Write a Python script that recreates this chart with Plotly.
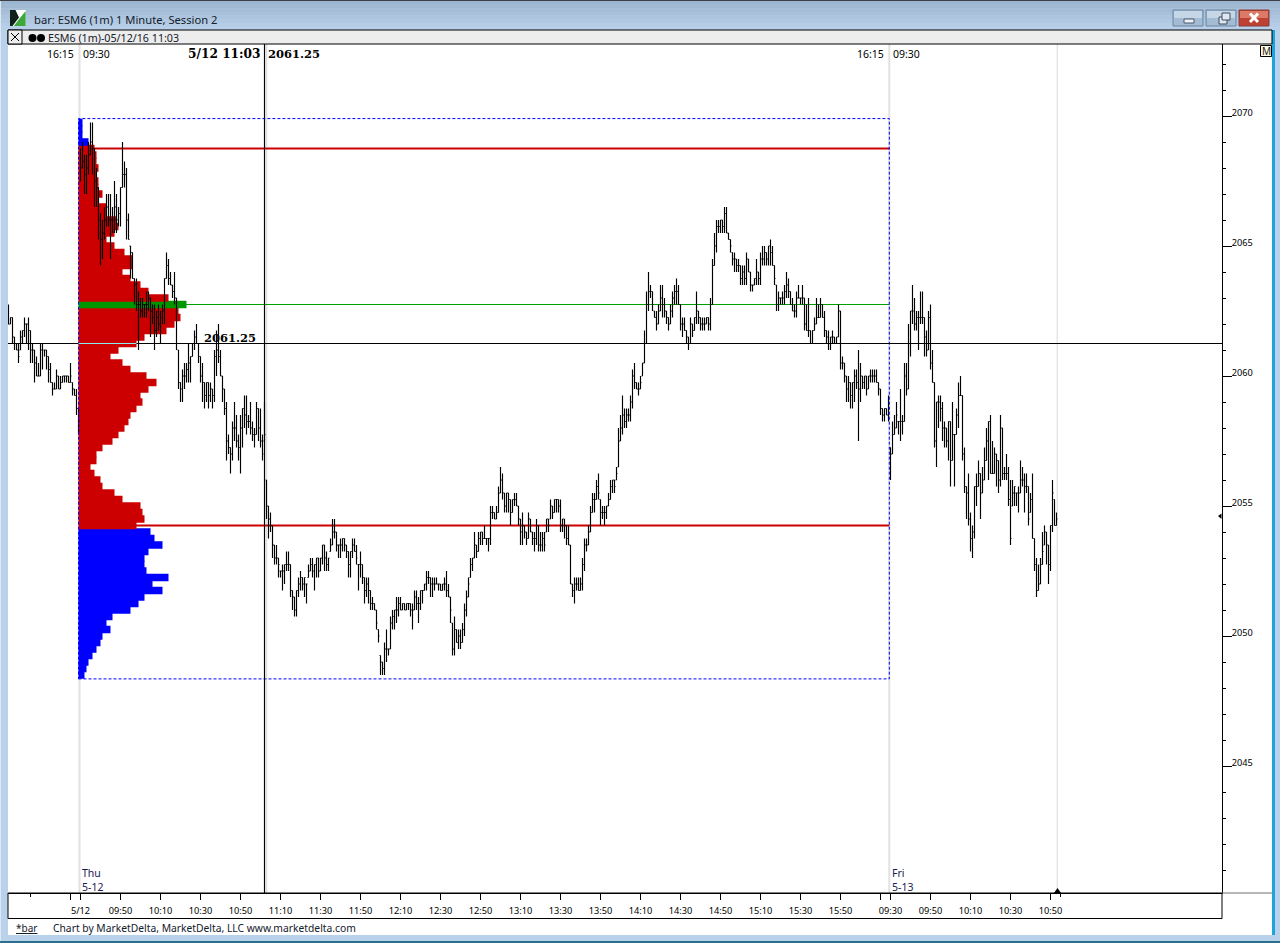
import plotly.graph_objects as go

# ---------------- chart data ----------------
PRICE_BASE = 2000  # bar prices below are quoted in points above this

# one-minute bars, 09:30 Thu = bar 0; first_bar is the earliest bar on screen
first_bar = -36

bar_high = [
 62.75,62.25,62.25,61.5,61.25,61.25,61.75,61.75,62.25,62.0,
 62.25,61.75,61.25,61.0,60.75,60.5,61.25,61.25,61.0,61.0,
 60.75,60.5,59.75,59.75,60.25,60.0,60.0,60.0,60.0,60.0,
 60.0,60.5,59.75,59.5,59.5,58.75,
 68.75,69.0,68.5,68.5,69.0,69.75,69.75,68.75,68.0,67.25,
 66.25,66.0,66.5,67.0,67.0,67.0,66.5,67.5,67.0,66.5,
 67.25,69.0,68.25,68.0,66.25,65.0,64.75,63.75,63.75,63.25,
 63.0,63.0,62.75,63.25,63.25,63.0,62.75,62.75,62.5,62.75,
 62.5,62.75,63.75,64.75,64.5,64.0,63.5,64.0,63.0,61.0,
 59.75,60.25,60.5,60.5,61.25,60.75,61.25,61.75,62.0,61.25,
 60.75,60.5,59.75,59.75,59.75,59.75,59.5,61.0,61.75,62.0,
 61.0,60.0,59.5,59.0,57.75,57.25,58.25,59.0,58.5,57.75,
 58.5,58.75,59.25,59.25,58.5,59.0,58.25,58.0,59.0,58.75,
 58.75,57.75,59.0,56.0,55.0,54.75,54.25,53.5,53.5,53.0,
 52.5,52.75,52.75,53.25,53.25,52.75,51.75,51.5,51.75,52.25,
 52.5,52.25,52.25,52.0,52.75,53.0,53.0,52.75,53.0,53.0,
 53.0,53.5,53.5,53.25,53.0,53.75,54.5,54.5,54.0,53.5,
 53.75,53.75,53.75,53.5,53.25,53.25,53.75,53.75,53.5,52.75,
 53.25,52.75,52.25,52.25,52.25,51.75,51.5,51.25,51.0,50.25,
 49.25,49.0,49.75,50.25,49.5,50.75,51.0,51.0,51.5,51.5,
 51.5,51.25,51.25,51.25,51.25,51.25,51.25,51.75,51.75,51.5,
 51.75,51.75,52.0,52.5,52.5,52.25,52.25,52.25,52.25,52.0,
 52.0,52.0,52.25,52.5,52.0,51.5,50.5,50.75,50.25,50.25,
 50.25,50.5,51.25,51.75,52.25,53.0,53.0,54.0,53.5,54.0,
 54.0,54.0,54.25,53.75,53.75,55.0,55.0,54.75,55.0,55.75,
 56.5,56.25,55.5,55.5,55.5,55.25,55.25,55.5,55.5,55.0,
 54.5,54.75,54.25,54.0,54.75,54.5,54.0,54.0,54.5,54.25,
 54.0,54.0,54.0,54.5,54.5,55.25,55.0,55.25,55.25,55.25,
 55.25,54.5,54.5,54.25,54.25,53.5,52.0,52.25,52.25,52.25,
 52.25,53.0,53.75,53.75,54.25,55.0,55.5,55.5,56.0,56.25,
 55.25,55.0,55.0,55.0,55.5,56.0,56.0,56.0,56.5,58.0,
 58.5,59.25,58.75,58.75,58.75,59.25,60.25,60.5,59.75,59.75,
 60.0,60.5,61.75,63.25,64.0,63.5,63.25,62.5,62.5,62.75,
 63.5,63.5,63.0,62.5,62.25,62.75,63.25,63.5,63.75,63.5,
 62.75,62.25,62.25,61.75,61.5,62.25,62.0,62.25,63.25,62.5,
 62.25,62.25,62.25,62.25,62.25,63.0,64.5,65.5,66.0,66.0,
 66.0,66.0,66.5,66.5,65.5,65.25,64.75,64.75,64.5,64.5,
 64.25,64.25,64.25,64.75,64.5,64.0,63.5,63.75,64.5,64.0,
 64.75,65.0,65.0,64.75,65.0,65.25,65.0,64.25,63.5,63.25,
 63.0,63.25,63.5,64.0,63.75,63.25,63.0,62.75,63.25,63.5,
 63.0,63.5,63.0,62.75,63.0,61.75,61.75,62.25,63.0,62.75,
 63.0,62.75,62.5,61.75,61.75,61.5,61.75,61.5,61.5,62.75,
 62.5,60.75,60.5,60.0,60.0,59.75,59.75,60.25,60.25,61.0,
 60.5,60.0,60.0,60.0,60.0,60.25,60.25,60.25,60.25,59.75,
 59.5,58.75,58.75,58.75,59.25,57.25,58.25,58.5,59.0,58.25,
 59.5,58.5,60.5,60.5,62.0,62.5,63.5,63.0,62.5,62.5,
 63.25,63.25,62.25,61.75,62.5,62.75,61.0,59.75,59.0,59.25,
 59.25,59.0,58.25,58.0,58.25,58.25,59.0,57.75,58.75,59.75,
 60.0,59.25,57.25,55.75,56.25,54.75,54.25,55.75,56.25,56.75,
 56.25,56.5,57.25,58.0,58.25,58.5,57.5,57.25,57.0,56.75,
 58.5,58.0,56.5,57.0,56.5,56.0,56.0,55.75,55.5,55.75,
 56.75,56.5,56.25,56.25,55.75,55.5,56.25,53.75,53.0,52.75,
 53.0,54.0,54.25,54.0,53.5,54.25,56.0,55.25,54.75,
]

bar_low = [
 62.0,62.0,61.25,61.0,61.0,60.5,61.0,61.25,61.5,61.25,
 61.0,60.5,60.5,59.75,60.0,60.0,60.0,60.25,60.75,60.25,
 59.75,59.75,59.25,59.5,59.5,59.5,59.5,59.75,59.75,59.75,
 59.75,59.75,59.25,59.25,58.5,57.75,
 67.5,68.0,67.0,67.0,67.75,68.5,67.75,66.5,66.5,65.25,
 64.25,64.5,65.25,65.75,65.75,64.5,65.5,65.5,65.5,65.75,
 65.75,67.25,67.25,65.25,65.25,63.75,63.75,62.75,62.5,61.0,
 62.25,62.25,62.25,62.25,62.5,61.5,62.0,61.0,61.5,61.75,
 61.25,62.0,62.0,63.75,63.5,63.5,63.0,62.75,61.0,59.5,
 59.0,59.0,59.5,59.75,59.75,59.75,60.75,61.0,61.25,60.5,
 59.75,59.0,58.75,59.0,58.75,59.0,58.75,59.0,60.0,60.5,
 60.0,59.0,58.5,56.75,57.0,56.25,56.75,57.5,57.25,56.75,
 56.25,57.25,58.0,57.75,58.0,57.75,57.5,57.25,57.75,57.5,
 57.25,56.75,57.5,54.5,53.75,54.0,53.0,52.75,52.75,52.25,
 52.25,51.75,52.0,52.5,52.5,51.5,51.0,50.75,50.75,51.5,
 51.75,51.75,51.5,51.25,52.25,52.5,52.25,51.75,52.25,52.25,
 52.5,52.75,52.5,52.5,52.5,53.25,53.5,53.75,53.25,53.0,
 53.0,53.25,53.25,53.0,52.25,52.25,53.0,53.25,52.75,51.75,
 52.25,52.0,51.25,51.5,51.25,51.0,51.0,51.0,50.25,49.75,
 48.5,48.5,48.5,49.0,49.25,49.5,50.25,50.25,50.5,50.75,
 51.0,51.0,51.0,51.0,51.0,50.75,50.25,51.0,51.0,50.5,
 51.0,51.25,51.75,51.75,52.0,51.5,51.5,51.75,52.0,51.75,
 51.75,51.75,51.75,51.5,51.5,50.5,49.25,49.25,49.75,49.5,
 49.5,49.75,50.0,50.75,51.5,52.25,52.5,53.0,53.0,53.25,
 53.5,53.5,53.75,53.5,53.25,53.5,54.5,54.5,54.5,54.75,
 55.5,55.25,54.75,54.75,54.75,54.25,54.75,55.0,55.0,54.25,
 53.5,53.5,53.75,53.5,53.75,54.0,53.5,53.25,53.5,53.25,
 53.25,53.25,53.25,54.0,54.0,54.5,54.5,54.75,54.75,54.75,
 54.0,54.0,53.75,53.5,53.5,52.0,51.5,51.25,51.75,51.75,
 51.75,51.75,52.5,53.25,53.5,54.0,54.75,54.75,55.25,55.25,
 54.25,54.5,54.25,54.5,55.0,55.25,55.5,55.5,56.0,56.5,
 57.5,57.75,58.0,58.0,58.25,58.25,58.75,59.5,59.5,59.25,
 59.5,60.0,60.5,61.25,62.5,63.0,62.5,62.25,61.75,62.0,
 62.5,62.25,62.25,62.0,61.75,62.0,62.25,62.75,62.75,62.75,
 61.75,61.5,61.75,61.25,61.0,61.25,61.5,61.75,62.0,62.0,
 61.75,61.75,61.75,62.0,61.75,61.75,62.75,64.25,64.75,65.5,
 65.5,65.5,65.5,65.5,65.25,64.75,64.25,64.0,64.0,64.0,
 63.5,63.5,63.5,63.5,64.0,63.25,63.25,63.5,63.5,63.5,
 63.5,64.25,64.25,64.25,64.25,64.25,64.25,63.5,62.5,62.5,
 62.75,62.75,62.75,63.0,63.0,62.75,62.5,62.25,62.25,63.0,
 62.75,62.75,61.75,61.75,61.5,61.25,61.25,61.75,62.0,62.25,
 62.25,62.25,61.5,61.25,61.0,61.0,61.25,61.25,61.25,61.5,
 60.25,60.25,59.75,59.0,59.0,58.75,58.75,59.0,59.5,57.5,
 59.0,59.5,59.5,59.25,59.5,59.75,59.75,59.75,59.75,59.25,
 58.5,58.25,58.25,58.5,58.25,56.0,57.0,57.75,58.0,57.75,
 57.5,57.75,58.25,59.25,59.5,60.75,62.0,61.75,61.75,61.0,
 62.0,62.0,60.75,60.75,61.0,60.25,59.75,57.25,56.5,58.0,
 58.25,57.5,57.25,57.25,56.75,55.75,56.75,55.75,57.75,58.0,
 59.25,56.75,55.5,54.5,54.25,53.25,53.0,53.75,55.0,55.75,
 54.5,55.5,56.0,56.75,56.0,56.25,56.25,56.25,55.75,55.5,
 55.75,56.0,56.0,56.0,55.0,53.5,55.0,55.0,55.0,54.75,
 55.5,55.75,54.75,55.5,54.25,54.75,53.75,52.5,51.5,51.75,
 52.0,52.75,53.5,52.75,52.0,52.5,54.0,54.25,54.25,
]

bar_close = [
 62.0,62.25,61.5,61.25,61.0,60.75,61.5,61.75,62.0,62.0,
 61.75,61.0,61.0,60.5,60.0,60.0,61.0,61.25,61.0,60.75,
 60.25,59.75,59.5,59.5,60.0,59.5,59.75,60.0,60.0,60.0,
 59.75,60.0,59.5,59.25,58.75,58.25,
 68.0,68.25,67.75,68.0,68.5,69.0,68.75,67.5,67.25,66.0,
 65.25,65.5,66.0,66.5,66.0,66.0,66.0,66.5,66.0,66.25,
 67.25,67.75,67.75,66.0,65.25,64.75,63.75,63.5,62.75,62.75,
 62.5,62.75,62.75,62.75,63.0,62.5,62.25,61.75,62.25,62.0,
 62.25,62.5,63.75,64.25,63.75,63.5,63.25,63.0,61.25,59.75,
 59.5,60.0,60.0,60.25,60.5,60.75,61.25,61.5,61.25,60.75,
 60.0,59.75,59.25,59.75,59.25,59.5,59.25,60.75,61.0,60.75,
 60.0,59.5,58.75,57.5,57.25,57.0,58.0,58.0,57.5,57.25,
 58.0,58.75,58.5,58.25,58.25,58.0,57.75,57.75,58.75,58.0,
 57.5,57.0,57.75,55.0,54.5,54.25,53.5,53.0,53.0,52.75,
 52.5,52.5,52.75,52.75,52.75,51.75,51.5,51.0,51.75,52.0,
 52.25,52.0,52.25,52.0,52.5,52.75,52.5,52.75,53.0,52.5,
 53.0,53.5,53.0,52.75,53.0,53.5,54.0,54.0,53.5,53.5,
 53.5,53.75,53.5,53.25,52.75,53.25,53.5,53.25,53.0,52.75,
 52.75,52.25,51.75,52.0,51.75,51.25,51.25,51.0,50.5,50.0,
 49.0,48.75,49.5,49.5,49.5,50.5,50.75,51.0,51.0,51.25,
 51.0,51.25,51.0,51.25,51.25,51.0,51.0,51.5,51.25,51.25,
 51.75,51.75,52.0,52.25,52.25,52.0,52.0,52.0,52.0,52.0,
 51.75,52.0,52.0,51.75,51.5,51.0,49.5,50.25,49.75,50.0,
 49.75,50.25,51.0,51.5,52.0,52.75,53.0,53.5,53.25,53.75,
 54.0,53.75,53.75,53.75,53.75,54.75,54.75,54.5,54.75,55.5,
 56.0,55.5,55.0,55.5,55.25,54.75,55.25,55.25,55.0,54.5,
 54.0,54.25,54.0,53.75,54.5,54.0,53.75,53.75,54.25,53.5,
 53.5,53.75,53.5,54.5,54.25,55.0,54.75,55.25,55.25,55.0,
 54.25,54.5,54.25,53.75,53.5,52.0,51.75,52.0,52.0,51.75,
 52.0,52.75,53.5,53.5,54.0,54.75,55.25,55.25,55.75,55.5,
 54.75,54.75,54.75,55.0,55.25,55.75,56.0,55.75,56.25,57.5,
 58.0,58.5,58.25,58.5,58.5,59.0,60.0,59.75,59.5,59.5,
 59.75,60.5,61.25,62.75,63.25,63.25,62.75,62.25,62.0,62.5,
 63.0,62.75,62.5,62.25,62.0,62.5,63.0,63.25,63.25,62.75,
 62.0,62.0,61.75,61.5,61.25,62.0,61.75,62.25,62.5,62.25,
 62.0,62.0,62.0,62.25,62.0,62.75,64.25,65.0,65.75,65.75,
 66.0,65.75,66.25,65.5,65.25,65.0,64.5,64.5,64.25,64.25,
 63.75,64.0,63.75,64.5,64.0,63.5,63.5,63.75,64.0,63.75,
 64.5,64.5,64.75,64.5,65.0,64.75,64.25,63.75,62.75,63.0,
 63.0,63.0,63.25,63.5,63.25,62.75,62.5,62.5,63.0,63.0,
 63.0,63.0,62.0,61.75,61.75,61.25,61.75,62.0,62.25,62.25,
 62.75,62.25,61.75,61.5,61.25,61.5,61.5,61.25,61.5,62.5,
 60.5,60.5,60.0,59.5,59.75,59.25,59.75,60.0,59.75,59.5,
 60.0,59.75,60.0,59.5,60.0,60.0,60.0,60.0,59.75,59.5,
 58.75,58.5,58.75,58.5,58.75,57.0,57.75,58.0,58.5,58.25,
 58.25,58.25,60.0,59.5,61.25,62.5,62.5,62.0,62.25,62.25,
 62.25,62.25,61.5,61.0,62.25,60.5,59.75,57.5,59.0,59.0,
 58.75,58.0,58.0,57.5,58.25,56.75,57.75,57.75,58.5,59.25,
 59.25,57.0,55.75,55.5,54.5,53.75,54.0,55.75,55.75,56.25,
 55.5,56.0,56.75,57.5,58.25,56.25,56.25,57.0,56.75,56.0,
 58.0,56.25,56.25,56.25,55.25,53.75,55.5,55.75,55.5,55.5,
 56.0,56.0,55.75,55.75,54.5,55.25,53.75,52.75,51.75,52.0,
 52.75,53.25,54.0,53.5,52.75,54.25,55.5,54.25,54.5,
]

# volume profile of the Thursday session (one row per quarter point)
profile_price = [
 2069.75,2069.5,2069.25,2069.0,2068.75,2068.5,2068.25,2068.0,2067.75,2067.5,
 2067.25,2067.0,2066.75,2066.5,2066.25,2066.0,2065.75,2065.5,2065.25,2065.0,
 2064.75,2064.5,2064.25,2064.0,2063.75,2063.5,2063.25,2063.0,2062.75,2062.5,
 2062.25,2062.0,2061.75,2061.5,2061.25,2061.0,2060.75,2060.5,2060.25,2060.0,
 2059.75,2059.5,2059.25,2059.0,2058.75,2058.5,2058.25,2058.0,2057.75,2057.5,
 2057.25,2057.0,2056.75,2056.5,2056.25,2056.0,2055.75,2055.5,2055.25,2055.0,
 2054.75,2054.5,2054.25,2054.0,2053.75,2053.5,2053.25,2053.0,2052.75,2052.5,
 2052.25,2052.0,2051.75,2051.5,2051.25,2051.0,2050.75,2050.5,2050.25,2050.0,
 2049.75,2049.5,2049.25,2049.0,2048.75,2048.5,
]
profile_count = [
 2,2,2,5,8,9,9,10,9,10,
 10,12,10,14,14,19,20,18,14,18,
 23,27,27,22,26,31,35,45,54,50,
 51,48,44,33,29,20,16,22,26,34,
 39,35,31,32,29,26,25,23,20,17,
 12,9,9,6,8,11,12,18,22,31,
 32,33,29,36,38,42,35,33,33,34,
 45,37,42,33,30,26,17,14,16,12,
 11,9,7,5,4,3,
]

value_area_high = 2068.75
value_area_low = 2054.25
point_of_control = 2062.75
cursor_price = 2061.25
session_high = 2069.9
session_low = 2048.35
last_price = 2054.5

# bar numbers of the session starts, the cursor and the end of the data
thu_open_bar = -0.5
fri_open_bar = 404.4
cursor_bar = 92
end_bar = 488.4

time_tick_bars = [0,20,40,60,80,100,120,140,160,180,200,220,240,260,280,300,320,340,360,380,400,405,425,445,465,485,-5]
time_tick_text = ["5/12","09:50","10:10","10:30","10:50","11:10","11:30","11:50","12:10","12:30","12:50","13:10","13:30","13:50","14:10","14:30","14:50","15:10","15:30","15:50","","09:30","09:50","10:10","10:30","10:50",""]
short_tick_bars = [-25, 490]
price_ticks = [2045, 2050, 2055, 2060, 2065, 2070]

# ---------------- page geometry ----------------
W, H = 1280, 943
PLOT_L, PLOT_R, PLOT_T, PLOT_B = 8, 1222, 44, 893
BLUE, RED, GREEN = "#0000ff", "#cc0000", "#009600"


def X(px):
    return px / W


def Y(py):
    return 1 - py / H


shapes = []


def rect(x0, y0, x1, y1, fill, line=None, lw=1, layer="above"):
    shapes.append(dict(type="rect", xref="paper", yref="paper", x0=X(x0), x1=X(x1), y0=Y(y0), y1=Y(y1),
                       fillcolor=fill, line=dict(color=line or fill, width=lw if line else 0), layer=layer))


def seg(x0, y0, x1, y1, color, lw=1):
    shapes.append(dict(type="line", xref="paper", yref="paper", x0=X(x0), x1=X(x1), y0=Y(y0), y1=Y(y1),
                       line=dict(color=color, width=lw), layer="above"))


def poly(points, fill):
    d = "M" + " L".join(f"{X(a):.5f},{Y(b):.5f}" for a, b in points) + " Z"
    shapes.append(dict(type="path", xref="paper", yref="paper", path=d, fillcolor=fill, line=dict(width=0), layer="above"))


def vline(bar, color, lw, layer="below"):
    shapes.append(dict(type="line", xref="x", yref="paper", x0=bar, x1=bar, y0=Y(PLOT_B), y1=Y(PLOT_T),
                       line=dict(color=color, width=lw), layer=layer))


def hline(price, x0, x1, color, lw, layer="below"):
    shapes.append(dict(type="line", xref="x", yref="y", x0=x0, x1=x1, y0=price, y1=price,
                       line=dict(color=color, width=lw), layer=layer))


annotations = []


def label(x, y, text, size=10.5, color="#000000", family="Noto Sans", anchor="left"):
    annotations.append(dict(xref="paper", yref="paper", x=X(x - 0.8), y=Y(y), text=text, showarrow=False,
                            xanchor=anchor, yanchor="middle", borderpad=0,
                            font=dict(family=family, size=size, color=color)))


# ---- window frame ----
# white client area of the chart window sits beneath the plot
rect(8, 30, 1272, 935, "#ffffff", layer="below")
bands = ["#9db6cf", "#a0b9d2", "#a4bcd5", "#a8c0d9", "#acc4dd", "#b0c8e1", "#b4cce5", "#b7cfe8"]
for k, c in enumerate(bands):
    rect(0, 1 + k * 3.65, W, 1 + (k + 1) * 3.65, c)
rect(0, 0, W, 1, "#3c4046")
rect(0, 1, 1, H, "#dde8f3")
rect(1272, 30, 1275, 935, "#1aa5dc")
rect(0, 941, W, H, "#2a6f8c")
rect(8, 30, 1272, 44, "#ededed", "#000000", 1)
rect(8, 30, 22, 44, "#ededed", "#000000", 1)
seg(11, 33, 19, 41, "#000000")
seg(19, 33, 11, 41, "#000000")
for cx in (32.5, 41):
    shapes.append(dict(type="circle", xref="paper", yref="paper", x0=X(cx - 4), x1=X(cx + 4), y0=Y(34), y1=Y(42),
                       fillcolor="#000000", line=dict(width=0), layer="above"))
# title-bar icon
rect(10, 10, 26, 26, "#ffffff")
poly([(10, 10), (15.5, 10), (19, 17.5), (12.5, 26), (10, 26)], "#10201a")
poly([(25.7, 11), (25.7, 26), (13.8, 26), (20, 18)], "#3aa83a")
# window buttons
for x0, c1, c2, edge in ((1173, "#c5d6e6", "#a3bbd3", "#6a84a0"), (1206, "#c5d6e6", "#a3bbd3", "#6a84a0"),
                         (1239, "#dc7a68", "#bd4233", "#8a3b36")):
    rect(x0, 10, x0 + 30, 26, c2, edge, 1)
    rect(x0 + 1, 11, x0 + 29, 18, c1)
rect(1184, 19, 1194, 23, "#eef3f8", "#4a5a6c", 1)
rect(1219, 17, 1227, 24, "#dfe8f1", "#3e4c5c", 1)
rect(1222, 13, 1230, 20, "#dfe8f1", "#3e4c5c", 1)
seg(1250, 13.5, 1258, 22, "#ffffff", 3)
seg(1258, 13.5, 1250, 22, "#ffffff", 3)
# time-axis box, the line that carries on to the right, and the status strip
rect(PLOT_L, PLOT_B, PLOT_R, 918.5, "rgba(0,0,0,0)", "#000000", 1)
seg(PLOT_R, PLOT_B, 1272, PLOT_B, "#6e6e6e", 1)
# M box
rect(1260.5, 45.5, 1271.5, 56.5, "#fffbe8", "#000000", 1)
# end-of-data triangle and last-price pointer
poly([(1054, 893), (1057.5, 888), (1061, 893)], "#000000")
poly([(1218, 516), (1221.5, 513.5), (1221.5, 519)], "#000000")

# ---- session furniture drawn from the scales ----
vline(thu_open_bar, "#e2e2e2", 2)
vline(fri_open_bar, "#e2e2e2", 2)
vline(end_bar, "#e6e6e6", 1.5)
vline(cursor_bar + 0.4, "#e0e0e0", 4)
hline(value_area_high, 0, fri_open_bar, RED, 2)
hline(value_area_low, 0, fri_open_bar, RED, 2)
hline(point_of_control, 50, fri_open_bar, "#00a000", 1)
shapes.append(dict(type="rect", xref="x", yref="y", x0=-1, x1=fri_open_bar, y0=session_low, y1=session_high,
                   line=dict(color=BLUE, width=1, dash="3px,2px"), fillcolor="rgba(0,0,0,0)", layer="above"))
vline(cursor_bar, "#000000", 1, layer="above")
shapes.append(dict(type="line", xref="paper", yref="y", x0=X(PLOT_L), x1=X(PLOT_R), y0=cursor_price, y1=cursor_price,
                   line=dict(color="#000000", width=1), layer="above"))
hline(cursor_price, -1, 28, "#8feaf0", 1, layer="above")

# ---- text ----
label(34, 19, "bar: ESM6 (1m) 1 Minute, Session 2", 11.2, "#14202c")
label(48, 38, "ESM6 (1m)-05/12/16 11:03", 10.7, "#14202c")
label(47, 53.5, "16:15")
label(83, 53.5, "09:30")
label(857, 53.5, "16:15")
label(893, 53.5, "09:30")
label(188, 53.5, "<b>5/12 11:03</b>", 12.2, family="DejaVu Serif")
label(268, 53.5, "<b>2061.25</b>", 11.5, family="DejaVu Serif")
label(204, 338, "<b>2061.25</b>", 11.5, family="DejaVu Serif")
label(81.5, 873, "Thu", 10.5, "#1a1a50")
label(81.5, 887, "5-12", 10.5, "#1a1a50")
label(891.5, 873, "Fri", 10.5, "#1a1a50")
label(891.5, 887, "5-13", 10.5, "#1a1a50")
label(1262, 51, "M", 10, "#1a1a1a")
label(16, 928, "<u>*bar</u>", 10, "#14202c")
label(53, 928, "Chart by MarketDelta, MarketDelta, LLC www.marketdelta.com", 10.3, "#14202c")

# ---- traces ----
bars_x = list(range(first_bar, first_bar + len(bar_high)))
highs = [PRICE_BASE + v for v in bar_high]
lows = [PRICE_BASE + v for v in bar_low]
closes = [PRICE_BASE + v for v in bar_close]
opens = [closes[0]] + [min(max(c, l), h) for c, l, h in zip(closes[:-1], lows[1:], highs[1:])]


def row_color(price):
    if price == point_of_control:
        return GREEN
    return RED if value_area_low <= price <= value_area_high else BLUE


# rows are drawn from the bottom up, so each row slightly overlaps the one beneath it and no seams show
fig = go.Figure()
fig.add_trace(go.Bar(y=profile_price[::-1], x=profile_count[::-1], base=-1, orientation="h", width=0.29,
                     marker=dict(color=[row_color(p) for p in profile_price[::-1]], line=dict(width=0)),
                     hoverinfo="skip", showlegend=False))
fig.add_trace(go.Ohlc(x=bars_x, open=opens, high=highs, low=lows, close=closes, tickwidth=0.5,
                      increasing=dict(line=dict(color="#000000", width=1.15)),
                      decreasing=dict(line=dict(color="#000000", width=1.15)),
                      showlegend=False, hoverinfo="skip"))

axis_font = dict(family="Noto Sans", size=9.2, color="#000000")
fig.update_layout(
    width=W, height=H, margin=dict(l=0, r=0, t=0, b=0, pad=0), autosize=False,
    paper_bgcolor="#b9d1ea", plot_bgcolor="#ffffff", showlegend=False, barmode="overlay",
    shapes=shapes, annotations=annotations,
    xaxis=dict(domain=[X(PLOT_L), X(PLOT_R)], range=[-36.25, 570.75], type="linear", showgrid=False, zeroline=False,
               rangeslider=dict(visible=False), tickmode="array", tickvals=time_tick_bars, ticktext=time_tick_text,
               ticks="outside", ticklen=6, tickcolor="#000000", tickwidth=1, tickfont=axis_font, tickangle=0,
               ticklabelstandoff=3, showline=True, linecolor="#000000", linewidth=1,
               minor=dict(ticks="outside", ticklen=3, tickcolor="#000000", tickwidth=1, tickmode="array",
                          tickvals=short_tick_bars, showgrid=False)),
    yaxis=dict(domain=[Y(PLOT_B), Y(PLOT_T)], range=[2070 - (PLOT_B - 116) / 26, 2070 + (116 - PLOT_T) / 26],
               side="right", showgrid=False, zeroline=False, tickmode="array", tickvals=price_ticks,
               ticktext=[str(v) for v in price_ticks], ticks="outside", ticklen=9, tickcolor="#000000", tickwidth=1,
               tickfont=axis_font, ticklabelshift=-3, ticklabelstandoff=-2, showline=True, linecolor="#000000", linewidth=1,
               minor=dict(ticks="outside", ticklen=3, tickcolor="#000000", tickwidth=1, dtick=1, showgrid=False)),
)

fig.write_html("out.html", config={"displayModeBar": False},
               post_script="document.body.style.margin='0';document.body.style.overflow='hidden';")
